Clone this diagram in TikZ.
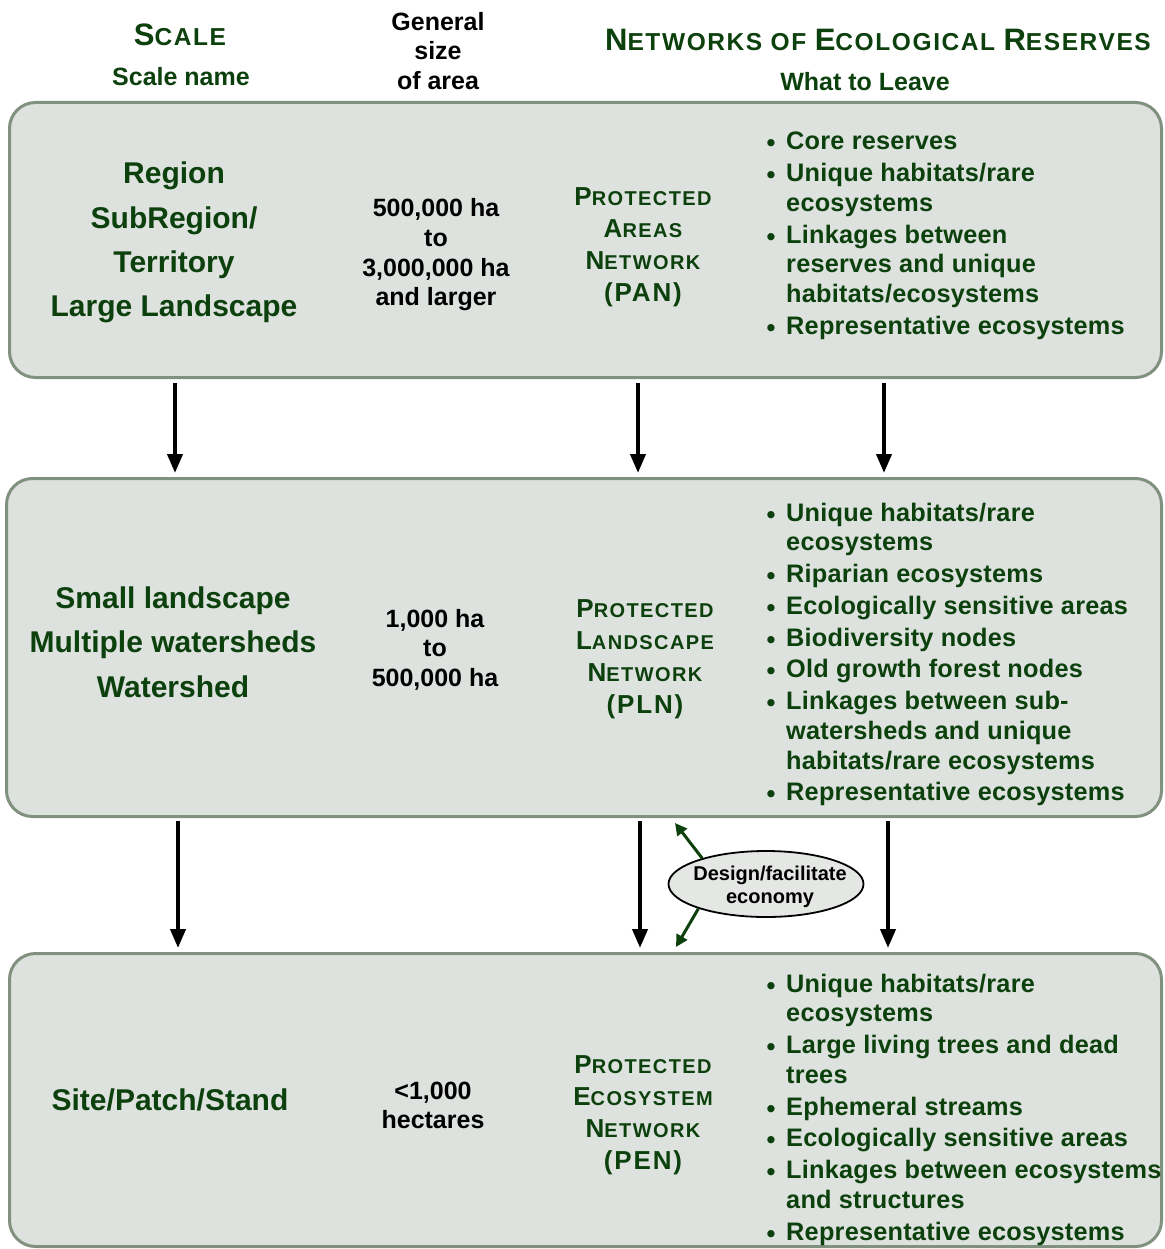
\documentclass[tikz,border=0pt]{standalone}
\usepackage{fontspec}
\setmainfont{Liberation Sans}
\usetikzlibrary{arrows.meta,shapes.geometric}
\definecolor{dg}{RGB}{12,64,12}
\definecolor{boxfill}{RGB}{221,226,222}
\definecolor{boxline}{RGB}{128,145,128}
\definecolor{ellfill}{RGB}{228,231,228}
\newcommand\hbc[1]{{\fontsize{31}{30}\selectfont #1}}
\newcommand\nbc[1]{{\fontsize{26}{32}\selectfont #1}}
\newcommand\bul{\makebox[19.5pt][l]{\raisebox{-2pt}{\textbullet}}}
\newcommand\blist[1]{\begin{tabular}[t]{@{}l@{}l@{}}#1\end{tabular}}
\begin{document}
\begin{tikzpicture}[x=1pt,y=-1pt,
  box/.style={draw=boxline, line width=3pt, fill=boxfill, rounded corners=26pt, inner sep=0pt},
  hdr/.style={text=dg, inner sep=0pt, font=\bfseries\fontsize{24.5}{30}\selectfont\addfontfeatures{LetterSpace=6.5}},
  sub/.style={text=dg, inner sep=0pt, font=\bfseries\fontsize{25}{30}\selectfont},
  gen/.style={text=black, inner sep=0pt, align=center, font=\bfseries\fontsize{25}{29.5}\selectfont},
  lefttxt/.style={text=dg, inner sep=0pt, align=center, font=\bfseries\fontsize{30}{44.3}\selectfont},
  midtxt/.style={text=black, inner sep=0pt, align=center, font=\bfseries\fontsize{25}{29.7}\selectfont},
  nettxt/.style={text=dg, inner sep=0pt, align=center, font=\bfseries\fontsize{20}{32}\selectfont\addfontfeatures{LetterSpace=7}},
  listtxt/.style={text=dg, inner sep=0pt, anchor=base west, font=\bfseries\fontsize{25.3}{29.7}\selectfont\addfontfeatures{LetterSpace=0.9}},
  ell/.style={ellipse, draw=black, line width=1.8pt, fill=ellfill, minimum width=195pt, minimum height=66pt, inner sep=0pt},
  elltxt/.style={text=black, inner sep=0pt, align=center, font=\bfseries\fontsize{20}{23}\selectfont},
  down/.style={-{Triangle[length=19pt,width=15pt]}, line width=4pt, draw=black},
  garrow/.style={-{Triangle[length=12pt,width=12pt]}, line width=3pt, draw=dg}]
\useasboundingbox (0,0) rectangle (1164,1249);

% header
\node[hdr] (hscale) at (180,35) {\hbc{S}CALE};
\node[sub] (hname) at (181,77) {Scale name};
\node[gen] (hsize) at (438,51) {General\\size\\of area};
\node[hdr] (hnet) at (878,40) {\hbc{N}ETWORKS OF \hbc{E}COLOGICAL \hbc{R}ESERVES};
\node[sub] (hleave) at (865,82) {What to Leave};

% boxes
\node[box, minimum width=1152pt, minimum height=275pt] (box1) at (585.5,240) {};
\node[box, minimum width=1155pt, minimum height=338pt] (box2) at (584,647.5) {};
\node[box, minimum width=1152pt, minimum height=293pt] (box3) at (585.5,1100) {};

% box 1
\node[lefttxt] (l1) at (174,242.5) {Region\\SubRegion/\\Territory\\Large Landscape};
\node[midtxt] (m1) at (436,255) {500,000 ha\\to\\3,000,000 ha\\and larger};
\node[nettxt] (n1) at (643,247.5) {\nbc{P}ROTECTED\\\nbc{A}REAS\\\nbc{N}ETWORK\\\nbc{(PAN)}};
\node[listtxt] (w1) at (766.5,150) {\blist{%
\bul & Core reserves\\[2.1pt]
\bul & Unique habitats/rare\\
     & ecosystems\\[2.1pt]
\bul & Linkages between\\
     & reserves and unique\\
     & habitats/ecosystems\\[2.1pt]
\bul & Representative ecosystems}};

% box 2
\node[lefttxt] (l2) at (173,642) {Small landscape\\Multiple watersheds\\Watershed};
\node[midtxt] (m2) at (435,649.6) {1,000 ha\\to\\500,000 ha};
\node[nettxt] (n2) at (645,659.5) {\nbc{P}ROTECTED\\\nbc{L}ANDSCAPE\\\nbc{N}ETWORK\\\nbc{(PLN)}};
\node[listtxt] (w2) at (766.5,521) {\blist{%
\bul & Unique habitats/rare\\
     & ecosystems\\[2.1pt]
\bul & Riparian ecosystems\\[2.1pt]
\bul & Ecologically sensitive areas\\[2.1pt]
\bul & Biodiversity nodes\\[2.1pt]
\bul & Old growth forest nodes\\[2.1pt]
\bul & Linkages between sub-\\
     & watersheds and unique\\
     & habitats/rare ecosystems\\[2.1pt]
\bul & Representative ecosystems}};

% box 3
\node[lefttxt] (l3) at (170,1100) {Site/Patch/Stand};
\node[midtxt] (m3) at (433,1105.5) {<1,000\\hectares};
\node[nettxt] (n3) at (643,1115.5) {\nbc{P}ROTECTED\\\nbc{E}COSYSTEM\\\nbc{N}ETWORK\\\nbc{(PEN)}};
\node[listtxt] (w3) at (766.5,992) {\blist{%
\bul & Unique habitats/rare\\
     & ecosystems\\[2.1pt]
\bul & Large living trees and dead\\
     & trees\\[2.1pt]
\bul & Ephemeral streams\\[2.1pt]
\bul & Ecologically sensitive areas\\[2.1pt]
\bul & Linkages between ecosystems\\
     & and structures\\[2.1pt]
\bul & Representative ecosystems}};

% arrows between boxes
\coordinate (a1s) at (175,383); \coordinate (a1e) at (175,473);
\coordinate (a2s) at (638,383); \coordinate (a2e) at (638,473);
\coordinate (a3s) at (884,383); \coordinate (a3e) at (884,473);
\coordinate (b1s) at (178,821); \coordinate (b1e) at (178,948);
\coordinate (b2s) at (640,821); \coordinate (b2e) at (640,948);
\coordinate (b3s) at (888,821); \coordinate (b3e) at (888,948);
\draw[down] (a1s) -- (a1e);
\draw[down] (a2s) -- (a2e);
\draw[down] (a3s) -- (a3e);
\draw[down] (b1s) -- (b1e);
\draw[down] (b2s) -- (b2e);
\draw[down] (b3s) -- (b3e);

% economy ellipse
\node[ell] (econ) at (766,884) {};
\node[elltxt] (econtxt) at (770,887) {Design/facilitate\\economy};
\coordinate (gtop) at (675,823);
\coordinate (gbot) at (676,947);
\draw[garrow] (econ.158) -- (gtop);
\draw[garrow] (econ.200) -- (gbot);
\end{tikzpicture}
\end{document}
